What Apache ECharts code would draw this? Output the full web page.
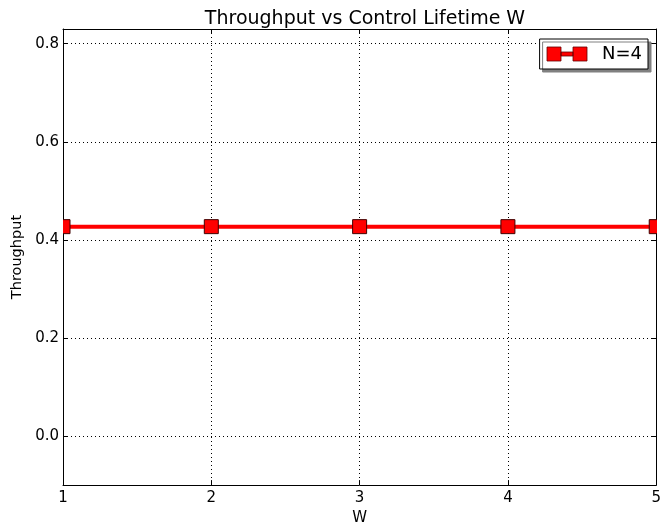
<!DOCTYPE html>
<html>
<head>
<meta charset="utf-8">
<script src="https://cdn.jsdelivr.net/npm/echarts@6/dist/echarts.min.js"></script>
<style>
  html, body { margin: 0; padding: 0; background: #fff; }
  #chart { width: 664px; height: 531px; }
</style>
</head>
<body>
<div id="chart"></div>
<script>
// data
const wValues = [1, 2, 3, 4, 5];
const throughputN4 = [0.427, 0.427, 0.427, 0.427, 0.427];
const yTicks = [0, 0.2, 0.4, 0.6, 0.8];
const seriesName = "N=4";

const font = "DejaVu Sans";
const myChart = echarts.init(document.getElementById("chart"));

const gridLine = { show: true, lineStyle: { color: "#000", type: [1, 3], width: 1 } };
const axisLine = { show: true, onZero: false, lineStyle: { color: "#000", width: 1 } };
const tick = { show: true, inside: true, length: 5, lineStyle: { color: "#000" } };
const points = wValues.map((w, i) => [w, throughputN4[i]]);

const option = {
  animation: false,
  title: {
    text: "Throughput vs Control Lifetime W",
    left: 360,
    textAlign: "center",
    top: 5,
    textStyle: { fontFamily: font, fontSize: 19, fontWeight: "normal", color: "#000" },
  },
  grid: { left: 63, right: 7, top: 29, bottom: 40 },
  legend: {
    right: 16,
    top: 39,
    padding: [6, 6, 6, 7],
    itemWidth: 40,
    itemHeight: 14,
    icon: "path://M0,0 H14 V14 H0 Z M26,0 H40 V14 H26 Z M14,5 H26 V9 H14 Z",
    backgroundColor: "#fff",
    borderColor: "#000",
    borderWidth: 1,
    borderRadius: 0,
    shadowColor: "#808080",
    shadowOffsetX: 3,
    shadowOffsetY: 3,
    shadowBlur: 0,
    itemStyle: { borderColor: "#600", borderWidth: 0.8 },
    textStyle: { fontFamily: font, fontSize: 18, color: "#000", padding: [0, 0, 0, 10] },
    data: [seriesName],
  },
  xAxis: [
    {
      type: "value",
      min: 1,
      max: 5,
      interval: 1,
      name: "W",
      nameLocation: "middle",
      nameGap: 23,
      nameTextStyle: { fontFamily: font, fontSize: 15, color: "#000" },
      axisLine: axisLine,
      axisTick: tick,
      axisLabel: { fontFamily: font, fontSize: 15, color: "#000", margin: 6 },
      splitLine: gridLine,
    },
    {
      type: "value",
      position: "top",
      min: 1,
      max: 5,
      interval: 1,
      axisLine: axisLine,
      axisTick: tick,
      axisLabel: { show: false },
      splitLine: { show: false },
    },
  ],
  yAxis: [
    {
      type: "value",
      min: -0.1,
      max: 0.83,
      name: "Throughput",
      nameLocation: "middle",
      nameGap: 36,
      nameTextStyle: { fontFamily: font, fontSize: 14.5, color: "#000" },
      axisLine: axisLine,
      axisTick: Object.assign({ customValues: yTicks }, tick),
      axisLabel: {
        customValues: yTicks,
        fontFamily: font,
        fontSize: 15,
        color: "#000",
        margin: 4,
        formatter: (v) => v.toFixed(1),
      },
      splitLine: gridLine,
    },
    {
      type: "value",
      position: "right",
      min: -0.1,
      max: 0.83,
      axisLine: axisLine,
      axisTick: Object.assign({ customValues: yTicks }, tick),
      axisLabel: { show: false, customValues: yTicks },
      splitLine: { show: false },
    },
  ],
  series: [
    {
      name: seriesName,
      type: "line",
      data: points,
      symbol: "none",
      lineStyle: { color: "#ff0000", width: 4 },
      itemStyle: { color: "#ff0000" },
      z: 3,
    },
    {
      // square markers, clipped at the plot edges like the original
      name: seriesName + " markers",
      type: "custom",
      clip: true,
      data: points,
      z: 4,
      renderItem: (params, api) => {
        const p = api.coord([api.value(0), api.value(1)]);
        const s = 14;
        return {
          type: "rect",
          shape: { x: p[0] - s / 2, y: p[1] - s / 2, width: s, height: s },
          style: { fill: "#ff0000", stroke: "#400000", lineWidth: 1 },
        };
      },
    },
  ],
};

myChart.setOption(option);
</script>
</body>
</html>
